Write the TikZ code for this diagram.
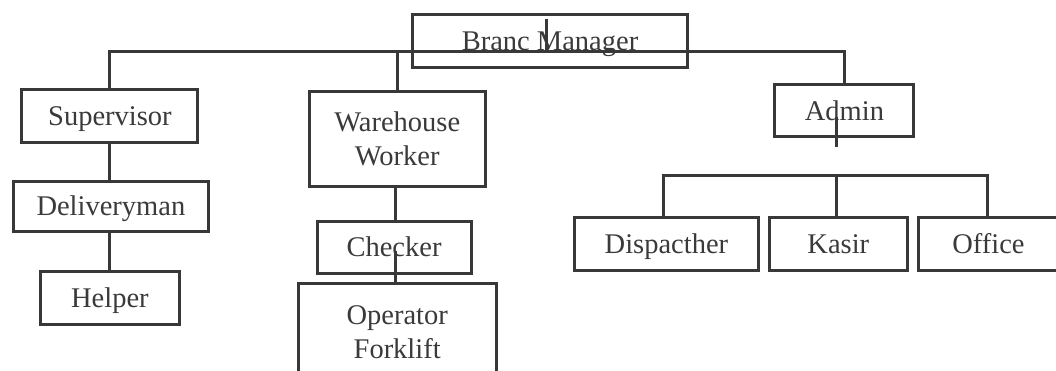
\documentclass[tikz,border=0pt]{standalone}
\usepackage{fontspec}
\setmainfont{Liberation Serif}
\begin{document}
\begin{tikzpicture}[x=1pt,y=-1pt,
  box/.style={draw=linec, line width=3pt, rectangle, inner sep=0pt, text=textc,
    font=\fontsize{28.5}{33.5}\selectfont, align=center},
  one/.style={text height=19pt, text depth=0pt},
  conn/.style={draw=linec, line width=3pt}]
\definecolor{linec}{HTML}{383838}
\definecolor{textc}{HTML}{3A3A3A}
\useasboundingbox (0,0) rectangle (1056,371);
\clip (0,0) rectangle (1056,371);
\fill[white] (0,0) rectangle (1056,371);
% boxes
\node[box,one,minimum width=275pt,minimum height=53pt] (mgr) at (550,41) {Branc Manager};
\node[box,one,minimum width=176pt,minimum height=53pt] (sup) at (109.9,115.8) {Supervisor};
\node[box,minimum width=176pt,minimum height=95pt] (ware) at (397.2,138.6) {Warehouse\\Worker};
\node[box,one,minimum width=195pt,minimum height=50pt] (deliv) at (110.9,206.4) {Deliveryman};
\node[box,one,minimum width=139pt,minimum height=53pt] (helper) at (109.9,297.5) {Helper};
\node[box,one,minimum width=154pt,minimum height=52pt] (checker) at (394,247.3) {Checker};
\node[box,minimum width=198pt,minimum height=97pt] (oper) at (397.2,332) {Operator\\Forklift};
\node[box,one,minimum width=139pt,minimum height=52pt] (admin) at (844.4,111) {Admin};
\node[box,one,minimum width=184pt,minimum height=53pt] (disp) at (666.4,244.4) {Dispacther};
\node[box,one,minimum width=138.5pt,minimum height=53pt] (kasir) at (838.3,244.4) {Kasir};
\node[box,one,minimum width=140pt,minimum height=53pt] (office) at (988.4,244.4) {Office};
% helper coordinates
\coordinate (mgrtick) at (546,19);
\coordinate (mgrbus) at (546,53);
\coordinate (busy) at (546,51.5);
\coordinate (chkin) at (395.5,251);
\coordinate (admtick) at (836,117);
\coordinate (admend) at (836,146.6);
\coordinate (lbL) at (663.5,176);
\coordinate (lbM) at (836,176);
\coordinate (lbR) at (987.5,176);
% connectors
\draw[conn] (sup.north) |- (admin.north |- busy) -- (admin.north);
\draw[conn] (ware.north) -- (ware.north |- busy);
\draw[conn] (mgrtick) -- (mgrbus);
\draw[conn] (sup.south) -- (sup.south |- deliv.north);
\draw[conn] (helper.north |- deliv.south) -- (helper.north);
\draw[conn] (checker.north -| 395.5,0) -- (395.5,0 |- ware.south);
\draw[conn] (chkin) -- (chkin |- oper.north);
\draw[conn] (admtick) -- (admend);
\draw[conn] (lbL |- disp.north) |- (lbR) -- (lbR |- office.north);
\draw[conn] (lbM) -- (lbM |- kasir.north);
\end{tikzpicture}
\end{document}
